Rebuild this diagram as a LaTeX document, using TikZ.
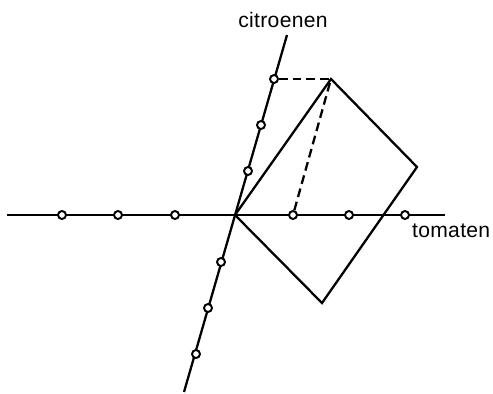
\documentclass[tikz,border=0pt]{standalone}
\usepackage{fontspec}
\setmainfont{Liberation Sans}
\newfontfamily\labelfont[LetterSpace=1.5]{Liberation Sans}
\begin{document}
\begin{tikzpicture}[x=0.02cm,y=-0.02cm,line width=1.3pt,line join=miter,
  tickmark/.style={circle,draw,fill=white,inner sep=0pt,minimum size=0.16cm,line width=1.1pt},
  dashline/.style={dash pattern=on 5pt off 2.8pt},
  axislabel/.style={font=\labelfont\fontsize{12}{14}\selectfont,inner sep=0pt}]
\useasboundingbox (0,0) rectangle (493,393);
% axes ends and origin
\coordinate (O) at (235,215);
\coordinate (hL) at (7,215);
\coordinate (hR) at (445,215);
\coordinate (sT) at (287,35);
\coordinate (sB) at (184,392);
% square corners
\coordinate (A) at (331,79);
\coordinate (R) at (417,167);
\coordinate (B) at (322,303);
% axes
\draw (hL) -- (hR);
\draw (sB) -- (sT);
% square
\draw (O) -- (A) -- (R) -- (B) -- cycle;
% dashed projections
\node[tickmark] (s3) at (274,79) {};
\node[tickmark] (h1) at (293,215) {};
\draw[dashline] (s3) -- (A);
\draw[dashline] (h1) -- (A);
% ticks on horizontal axis
\node[tickmark] (hm1) at (175,215) {};
\node[tickmark] (hm2) at (118,215) {};
\node[tickmark] (hm3) at (62,215) {};
\node[tickmark] (h2) at (349,215) {};
\node[tickmark] (h3) at (405,215) {};
% ticks on skew axis
\node[tickmark] (s1) at (248,171) {};
\node[tickmark] (s2) at (261,125) {};
\node[tickmark] (sm1) at (221,262) {};
\node[tickmark] (sm2) at (208,308) {};
\node[tickmark] (sm3) at (196,354) {};
% labels
\node[axislabel] (lc) at (283,20) {citroenen};
\node[axislabel,anchor=west] (lt) at (411,231) {tomaten};
\end{tikzpicture}
\end{document}
